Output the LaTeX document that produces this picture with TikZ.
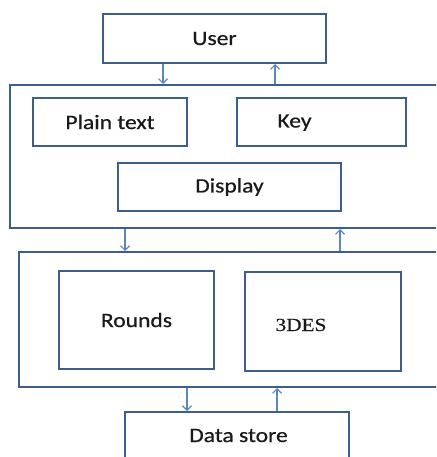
\documentclass[tikz,border=0pt]{standalone}
\usepackage{fontspec}
\setmainfont{Carlito}[FakeStretch=1.15,FakeBold=0.6]
\newfontfamily\serifwide{Liberation Serif}[FakeStretch=1.15,FakeBold=0.5]
\usetikzlibrary{arrows.meta}
\definecolor{boxline}{HTML}{3A5F8E}
\definecolor{flowline}{HTML}{5B87C0}
\definecolor{labeltext}{HTML}{1A1A1A}
\tikzset{
  box/.style={draw=boxline, line width=2pt, fill=white, inner sep=0pt,
    anchor=north west, text=labeltext, font=\fontsize{20.5}{24}\selectfont},
  lbl/.style={inner sep=0pt, text=labeltext, font=\fontsize{20.5}{24}\selectfont},
  flow/.style={draw=flowline, line width=1.3pt,
    -{Straight Barb[length=4.5pt,width=9pt,line width=1.1pt]}},
}
\begin{document}
\begin{tikzpicture}[x=1pt,y=-1pt]
  \useasboundingbox (0,0) rectangle (436,457);
  \clip (0,0) rectangle (436,457);
  \fill[white] (0,0) rectangle (436,457);

  % interface layer
  \node[box, minimum width=223pt, minimum height=49pt] (user) at (102,13) {User};
  \node[box, minimum width=440pt, minimum height=143pt] (ui) at (9,84) {};
  \node[box, minimum width=154pt, minimum height=48pt] (plain) at (32,97) {Plain text};
  \node[box, minimum width=169pt, minimum height=48pt] (key) at (236,97) {};
  \node[lbl, anchor=base] (keytext) at (294.5,127.5) {Key};
  \node[box, minimum width=223pt, minimum height=48pt] (display) at (117,162) {Display};

  % encryption layer
  \node[box, minimum width=430pt, minimum height=135pt] (engine) at (18,251) {};
  \node[box, minimum width=155pt, minimum height=98pt] (rounds) at (58,270) {Rounds};
  \node[box, minimum width=156pt, minimum height=99pt] (des) at (244,271) {};
  \node[lbl, anchor=base, font=\serifwide\fontsize{18.5}{22}\selectfont] (destext) at (301,331) {3DES};

  % storage
  \node[box, minimum width=224pt, minimum height=70pt] (store) at (124,411) {};
  \node[lbl, anchor=base] (storetext) at (238.5,442) {Data store};

  % connector columns
  \coordinate (xa) at (163,0);
  \coordinate (xb) at (275,0);
  \coordinate (xc) at (125,0);
  \coordinate (xd) at (340,0);
  \coordinate (xe) at (187,0);
  \coordinate (xf) at (277,0);

  \draw[flow] (user.south -| xa) -- (ui.north -| xa);
  \draw[flow] (ui.north -| xb) -- (user.south -| xb);
  \draw[flow] (ui.south -| xc) -- (engine.north -| xc);
  \draw[flow] (engine.north -| xd) -- (ui.south -| xd);
  \draw[flow] (engine.south -| xe) -- (store.north -| xe);
  \draw[flow] (store.north -| xf) -- (engine.south -| xf);
\end{tikzpicture}
\end{document}
